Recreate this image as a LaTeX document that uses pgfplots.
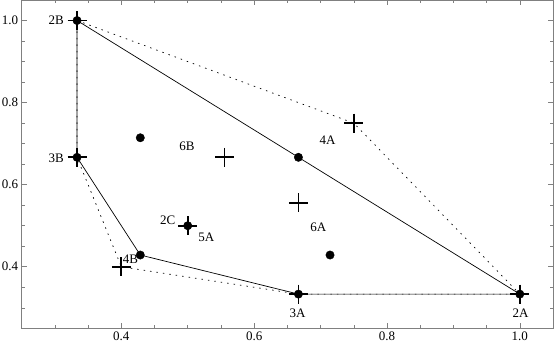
\documentclass[border=0pt]{standalone}
\usepackage{fontspec}
\setmainfont{Liberation Serif}
\usepackage{pgfplots}
\pgfplotsset{compat=1.18}
\begin{document}
\begin{tikzpicture}[font=\fontsize{13}{15}\selectfont]
\begin{axis}[
  at={(0,0)}, anchor=south west,
  scale only axis, width=531.3pt, height=328.3pt,
  xmin=0.25, xmax=1.05, ymin=0.25, ymax=1.05,
  xtick={0.4,0.6,0.8,1.0}, ytick={0.4,0.6,0.8,1.0},
  minor xtick={0.25,0.3,0.35,0.45,0.5,0.55,0.65,0.7,0.75,0.85,0.9,0.95,1.05},
  minor ytick={0.25,0.3,0.35,0.45,0.5,0.55,0.65,0.7,0.75,0.85,0.9,0.95,1.05},
  /pgf/number format/assume math mode=true,
  /pgf/number format/.cd, fixed, fixed zerofill, precision=1, /pgfplots/.cd,
  tick label style={font=\fontsize{13}{15}\selectfont},
  tick align=inside, major tick length=5pt, minor tick length=3pt,
  axis line style={black!50, line width=0.5pt},
  tick style={black!50, line width=0.5pt},
  xtick pos=both, ytick pos=both,
  xticklabel pos=lower, yticklabel pos=left,
  clip=false,
]
\addplot[black, line width=0.7pt] coordinates {
 (0.33333,1.0) (0.66667,0.66667) (1.0,0.33333) (0.66667,0.33333)
 (0.42857,0.42857) (0.33333,0.66667) (0.33333,1.0)};
\addplot[black, line width=0.7pt, dash pattern=on 1.5pt off 5pt] coordinates {
 (0.33333,1.0) (0.75,0.75) (1.0,0.33333) (0.66667,0.33333)
 (0.4,0.4) (0.33333,0.66667) (0.33333,1.0)};
\addplot[only marks, mark=*, mark size=4.2pt, black] coordinates {
 (0.33333,1.0) (0.33333,0.66667) (0.42857,0.42857) (0.5,0.5)
 (0.42857,0.71429) (0.66667,0.66667) (0.71429,0.42857)
 (0.66667,0.33333) (1.0,0.33333)};
\addplot[only marks, mark=+, mark size=9.5pt, black, mark options={line width=1.7pt}] coordinates {
 (0.33333,1.0) (0.33333,0.66667) (0.4,0.4) (0.5,0.5)
 (0.55556,0.66667) (0.66667,0.55556) (0.75,0.75)
 (0.66667,0.33333) (1.0,0.33333)};
\node at (axis cs:0.302,1.0) {2B};
\node at (axis cs:0.302,0.665) {3B};
\node at (axis cs:0.4136,0.418) {4B};
\node at (axis cs:0.470,0.5129) {2C};
\node at (axis cs:0.528,0.471) {5A};
\node at (axis cs:0.499,0.6945) {6B};
\node at (axis cs:0.6967,0.496) {6A};
\node at (axis cs:0.7107,0.7074) {4A};
\node at (axis cs:0.6654,0.2863) {3A};
\node at (axis cs:1.001,0.288) {2A};
\end{axis}
\pgfresetboundingbox
\useasboundingbox (-21.7pt,-20.7pt) rectangle (532.3pt,328.3pt);
\end{tikzpicture}
\end{document}
